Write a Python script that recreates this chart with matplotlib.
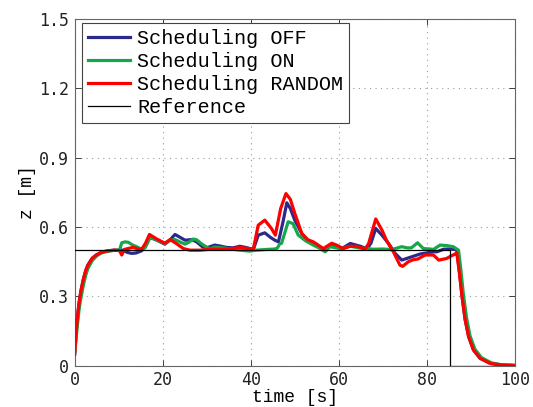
import numpy as np
import matplotlib
matplotlib.use('Agg')
import matplotlib.pyplot as plt

# (t [s], z [m])
off_pts = [(0, 0.05), (0.15, 0.09), (0.3, 0.13), (0.45, 0.168), (0.6, 0.2), (0.8, 0.238), (1, 0.27),
           (1.25, 0.302), (1.5, 0.33), (2, 0.375), (2.5, 0.41), (3, 0.435),
           (4, 0.465), (5, 0.48), (6, 0.49), (7, 0.495), (8, 0.498), (9, 0.5), (10.9, 0.5), (12, 0.49),
           (13, 0.486), (14, 0.488), (15.2, 0.497), (16.2, 0.52), (17.1, 0.555), (18.5, 0.545), (20.5, 0.526),
           (21.7, 0.545), (22.8, 0.568), (24, 0.555), (25.1, 0.543), (26.6, 0.546), (27.7, 0.536), (29, 0.515),
           (30, 0.51), (31.8, 0.522), (33, 0.518), (34.5, 0.512), (36, 0.51), (37.5, 0.517), (38.8, 0.512),
           (40.6, 0.503), (41.7, 0.565), (43.2, 0.575), (44.5, 0.555), (45.5, 0.543), (46.3, 0.536),
           (47.3, 0.62), (48.2, 0.705), (49, 0.68), (50, 0.63), (51.6, 0.572), (53, 0.54), (54.2, 0.529),
           (55.5, 0.515), (56.9, 0.5), (58, 0.52), (59.5, 0.512), (60.7, 0.507), (62.6, 0.529), (64.9, 0.517),
           (66.4, 0.506), (67.3, 0.53), (68.4, 0.594), (69.8, 0.565), (71.3, 0.529), (72.8, 0.486),
           (74.3, 0.457), (76.2, 0.469), (78.4, 0.483), (79.3, 0.486), (81.5, 0.493), (82.3, 0.493),
           (83.8, 0.504), (85, 0.505), (86.8, 0.502), (87.4, 0.41), (88.0, 0.30), (88.7, 0.2), (89.5, 0.125),
           (90.6, 0.068), (92.1, 0.032), (94.4, 0.01), (97, 0.003), (100, 0.001)]

on_pts = [(0, 0.05), (0.15, 0.08), (0.3, 0.11), (0.45, 0.14), (0.6, 0.17), (0.8, 0.205), (1, 0.24),
          (1.25, 0.272), (1.5, 0.30), (2, 0.35), (2.5, 0.39), (3, 0.42),
          (4, 0.455), (5, 0.475), (6, 0.487), (7, 0.493), (8, 0.497), (9, 0.499), (10.2, 0.5), (10.7, 0.532),
          (11.5, 0.536), (12.2, 0.534), (13.2, 0.522), (14.1, 0.515), (15.2, 0.504), (16, 0.51), (17.1, 0.556),
          (18.5, 0.545), (20.5, 0.529), (21.7, 0.542), (22.8, 0.546), (24, 0.535), (25.1, 0.526), (26, 0.535),
          (26.9, 0.548), (27.7, 0.545), (29, 0.525), (30.7, 0.505), (31.8, 0.513), (33.7, 0.51), (35.5, 0.505),
          (37.5, 0.5), (39.8, 0.496), (41.3, 0.5), (43.5, 0.503), (45.5, 0.505), (46.1, 0.51), (46.5, 0.525),
          (47, 0.53), (47.5, 0.56), (48.5, 0.623), (49.6, 0.615), (50.8, 0.565), (52.5, 0.54), (54.2, 0.522),
          (55.5, 0.51), (56.9, 0.493), (58, 0.515), (59.5, 0.51), (60.7, 0.507), (62.6, 0.517), (64.5, 0.51),
          (66.4, 0.507), (68, 0.504), (70, 0.505), (72, 0.503), (72.8, 0.507), (74.3, 0.515), (75.5, 0.51),
          (76.5, 0.51), (77.9, 0.532), (79.2, 0.507), (80.8, 0.505), (81.5, 0.503), (83, 0.522), (84.5, 0.52),
          (86, 0.515), (87.2, 0.5), (87.7, 0.42), (88.3, 0.31), (89, 0.21), (89.8, 0.13), (90.9, 0.072),
          (92.4, 0.035), (94.7, 0.012), (97, 0.004), (100, 0.001)]

random_pts = [(0, 0.05), (0.15, 0.09), (0.3, 0.13), (0.45, 0.168), (0.6, 0.2), (0.8, 0.238), (1, 0.27),
              (1.25, 0.302), (1.5, 0.33), (2, 0.375), (2.5, 0.41), (3, 0.435),
              (4, 0.465), (5, 0.48), (6, 0.49), (7, 0.495), (8, 0.498), (9, 0.5), (10.2, 0.498), (10.7, 0.479),
              (11.3, 0.503), (12.3, 0.508), (13.3, 0.512), (14.3, 0.506), (15.2, 0.503), (16.1, 0.53),
              (17, 0.568), (18.5, 0.55), (20.5, 0.53), (21.7, 0.546), (23, 0.53), (24.7, 0.507), (26.2, 0.5),
              (28.5, 0.5), (30.7, 0.504), (33, 0.504), (35.5, 0.506), (37.5, 0.512), (39.5, 0.507),
              (40.6, 0.505), (41.7, 0.608), (43.2, 0.63), (44.7, 0.594), (45.6, 0.565), (46.8, 0.68),
              (48, 0.745), (49, 0.72), (50, 0.66), (51.6, 0.572), (53, 0.545), (54.2, 0.536), (56.5, 0.507),
              (58.4, 0.53), (59.5, 0.522), (61, 0.507), (62.6, 0.517), (64.1, 0.517), (66, 0.504),
              (66.8, 0.53), (68.4, 0.635), (69.8, 0.587), (70.9, 0.54), (72.4, 0.493), (73.9, 0.435),
              (74.5, 0.43), (75.8, 0.45), (76.8, 0.458), (78, 0.462), (79.6, 0.479), (81.5, 0.479),
              (82.7, 0.457), (84.5, 0.464), (85.5, 0.475), (86.4, 0.483), (86.8, 0.489), (87.4, 0.40),
              (88, 0.30), (88.7, 0.2), (89.5, 0.125), (90.6, 0.068), (92.1, 0.032), (94.4, 0.01),
              (97, 0.003), (100, 0.001)]

ref_t = [0, 85.2, 85.2, 100]
ref_z = [0.5, 0.5, 0, 0]

labels = ['Scheduling OFF', 'Scheduling ON', 'Scheduling RANDOM', 'Reference']
colors = ['#2b2a8c', '#15a84a', '#ff0000']
xticks = [0, 20, 40, 60, 80, 100]
yticks = [0, 0.3, 0.6, 0.9, 1.2, 1.5]
ytick_labels = ['0', '0.3', '0.6', '0.9', '1.2', '1.5']

mono = 'Liberation Mono'
tickfont = 'DejaVu Sans Mono'

fig = plt.figure(figsize=(5.33, 4.07), dpi=100)
ax = fig.add_axes([0.140, 0.1015, 0.826, 0.8515])

for pts, c, lab in zip([off_pts, on_pts, random_pts], colors, labels[:3]):
    a = np.array(pts)
    ax.plot(a[:, 0], a[:, 1], color=c, lw=2.3, label=lab, zorder=3,
            solid_joinstyle='round')
ax.plot(ref_t, ref_z, color='black', lw=0.9, label=labels[3], zorder=4)

ax.set_xlim(0, 100)
ax.set_ylim(0, 1.5)
ax.set_xticks(xticks)
ax.set_yticks(yticks)
ax.set_yticklabels(ytick_labels)
ax.tick_params(direction='in', length=4, width=0.6, top=True, right=True,
               labelsize=12, pad=4, colors='#222222')
for lab in ax.get_xticklabels() + ax.get_yticklabels():
    lab.set_family(tickfont)
ax.grid(True, ls=(0, (1, 4)), color='#999999', lw=0.8)
for s in ax.spines.values():
    s.set_linewidth(0.8)
    s.set_color('#666666')

ax.set_xlabel('time [s]', family=mono, fontsize=13, labelpad=0)
ax.set_ylabel('z [m]', family=mono, fontsize=13, labelpad=2)

leg = ax.legend(loc='upper left', bbox_to_anchor=(0.0166, 0.988), borderaxespad=0,
                prop={'family': mono, 'size': 14.5}, fancybox=False, framealpha=1,
                edgecolor='#444444', handlelength=2.1, handletextpad=0.35,
                labelspacing=0.2, borderpad=0.3)
leg.get_frame().set_linewidth(0.8)

fig.savefig('out.png', dpi=100)
